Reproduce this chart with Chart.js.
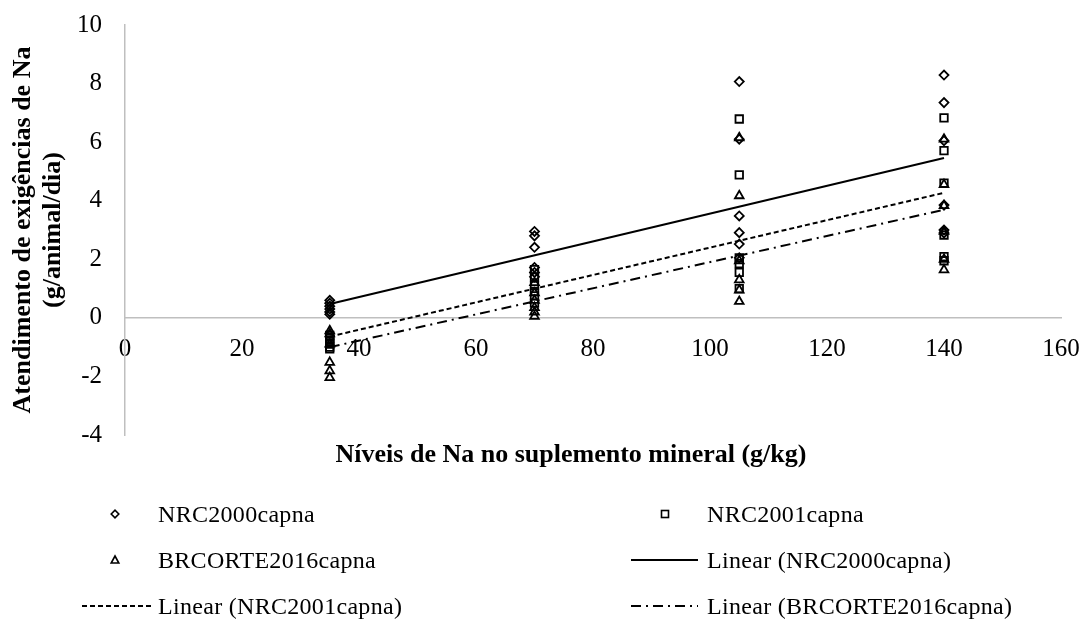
<!DOCTYPE html>
<html lang="pt">
<head>
<meta charset="utf-8">
<script src="https://cdn.jsdelivr.net/npm/chart.js@4.4.1/dist/chart.umd.min.js"></script>
<style>
  html, body { margin: 0; padding: 0; background: #fff; }
  #wrap { position: relative; width: 1085px; height: 619px; overflow: hidden; font-family: 'Liberation Serif', 'Times New Roman', serif; color: #000; }
  #chart { position: absolute; left: 0; top: 0; }
  #legend-marks { position: absolute; left: 0; top: 0; pointer-events: none; }
  .x-title { position: absolute; top: 438px; left: 271px; width: 600px; text-align: center; font-weight: bold; font-size: 26px; line-height: 32px; }
  .legend-text { position: absolute; height: 30px; font-size: 24px; line-height: 30px; white-space: nowrap; letter-spacing: 0.3px; }
</style>
</head>
<body>
<div id="wrap">
  <canvas id="chart" width="1085" height="445"></canvas>
  <div class="x-title">Níveis de Na no suplemento mineral (g/kg)</div>
  <svg id="legend-marks" width="1085" height="619"></svg>
</div>
<script>
// Na levels (g/kg) where the animals were measured
const levels = [35, 70, 105, 140];

// requirement attendance (g/animal/dia), one inner list per level
const nrc2000Values = [
  [0.6, 0.5, 0.4, 0.3, 0.2, 0.12],
  [2.95, 2.8, 2.41, 1.72, 1.55, 1.4],
  [8.07, 6.1, 3.48, 2.91, 2.52, 2.05],
  [8.29, 7.35, 6.05, 3.85, 3.0, 2.9]
];
const nrc2001Values = [
  [-0.6, -0.7, -0.8, -0.9, -1.0, -1.06],
  [1.65, 1.4, 1.1, 0.9, 0.75, 0.5],
  [6.79, 4.88, 2.05, 1.85, 1.55, 1.0],
  [6.83, 5.71, 4.6, 2.83, 2.09, 1.95]
];
const brcorteValues = [
  [-0.44, -0.55, -0.9, -1.52, -1.81, -2.04],
  [1.2, 0.85, 0.6, 0.35, 0.2, 0.05],
  [6.15, 4.17, 1.95, 1.3, 0.95, 0.56],
  [6.1, 4.55, 3.83, 2.95, 2.0, 1.64]
];

// trend lines, at the first and last level
const trendX = [35, 140];
const nrc2000Trend = [0.47, 5.46];
const nrc2001Trend = [-0.64, 4.27];
const brcorteTrend = [-1.0, 3.69];

const seriesNames = ['NRC2000capna', 'NRC2001capna', 'BRCORTE2016capna'];
const xRange = [0, 160, 20];
const yRange = [-4, 10, 2];

const FONT = "'Liberation Serif', 'Times New Roman', serif";

function toPoints(groups) {
  return groups.flatMap((values, i) => values.map((y) => ({ x: levels[i], y })));
}

function toLine(values) {
  return trendX.map((x, i) => ({ x, y: values[i] }));
}

function markerDataset(label, values, pointStyle, radius) {
  return {
    label,
    data: toPoints(values),
    pointStyle,
    pointRadius: radius,
    pointHoverRadius: radius,
    borderColor: '#000',
    backgroundColor: 'rgba(255,255,255,0)',
    borderWidth: 1.8,
    showLine: false
  };
}

function trendDataset(label, values, dash) {
  return {
    type: 'line',
    label: `Linear (${label})`,
    data: toLine(values),
    borderColor: '#000',
    backgroundColor: '#000',
    borderWidth: 2,
    borderDash: dash,
    pointRadius: 0,
    showLine: true,
    fill: false
  };
}

const datasets = [
  markerDataset(seriesNames[0], nrc2000Values, 'rectRot', 4.5),
  markerDataset(seriesNames[1], nrc2001Values, 'rect', 5.3),
  markerDataset(seriesNames[2], brcorteValues, 'triangle', 5),
  trendDataset(seriesNames[0], nrc2000Trend, []),
  trendDataset(seriesNames[1], nrc2001Trend, [5, 3]),
  trendDataset(seriesNames[2], brcorteTrend, [10, 5, 2, 5])
];

const chart = new Chart(document.getElementById('chart'), {
  type: 'scatter',
  data: { datasets },
  options: {
    responsive: false,
    animation: false,
    devicePixelRatio: 1,
    layout: { padding: { top: 25, right: 24, bottom: 10, left: 0 } },
    plugins: {
      legend: { display: false },
      tooltip: { enabled: false }
    },
    scales: {
      x: {
        type: 'linear',
        position: { y: 0 },
        min: xRange[0],
        max: xRange[1],
        afterFit: (scale) => {
          scale.height = 0;
          scale.paddingLeft = 0;
          scale.paddingRight = 0;
        },
        ticks: {
          stepSize: xRange[2],
          color: '#000',
          padding: 17,
          maxRotation: 0,
          autoSkip: false,
          font: { family: FONT, size: 25 }
        },
        grid: { display: false, drawTicks: false },
        border: { display: true, color: '#bfbfbf', width: 1.5 }
      },
      y: {
        type: 'linear',
        min: yRange[0],
        max: yRange[1],
        afterFit: (scale) => {
          scale.width = 125;
          scale.paddingTop = 0;
          scale.paddingBottom = 0;
        },
        ticks: {
          stepSize: yRange[2],
          color: '#000',
          padding: 23,
          font: { family: FONT, size: 25 }
        },
        grid: { display: false, drawTicks: false },
        border: { display: true, color: '#bfbfbf', width: 1.5 },
        title: {
          display: true,
          text: ['Atendimento de exigências de Na', '(g/animal/dia)'],
          color: '#000',
          padding: { top: 8, bottom: 0 },
          font: { family: FONT, size: 26, weight: 'bold', lineHeight: 1.15 }
        }
      }
    }
  }
});

// legend: two columns, filled row by row like the original
const LEGEND_ROWS = [514, 560, 606];
const LEGEND_COLS = [
  { mark: 115, lineFrom: 82, lineTo: 152, text: 158 },
  { mark: 665, lineFrom: 631, lineTo: 698, text: 707 }
];
const svgNS = 'http://www.w3.org/2000/svg';
const marks = document.getElementById('legend-marks');
const wrap = document.getElementById('wrap');

function svgEl(tag, attrs) {
  const el = document.createElementNS(svgNS, tag);
  Object.entries(attrs).forEach(([k, v]) => el.setAttribute(k, v));
  marks.appendChild(el);
  return el;
}

chart.data.datasets.forEach((ds, i) => {
  const col = LEGEND_COLS[i % 2];
  const cy = LEGEND_ROWS[Math.floor(i / 2)];
  const stroke = { fill: 'none', stroke: '#000', 'stroke-width': 1.6 };

  if (ds.type === 'line') {
    svgEl('line', {
      x1: col.lineFrom, x2: col.lineTo, y1: cy, y2: cy,
      stroke: '#000', 'stroke-width': 2,
      'stroke-dasharray': ds.borderDash.length ? ds.borderDash.join(' ') : 'none'
    });
  } else if (ds.pointStyle === 'rectRot') {
    const r = 3.8;
    const x = col.mark;
    svgEl('polygon', { points: `${x - r},${cy} ${x},${cy - r} ${x + r},${cy} ${x},${cy + r}`, ...stroke });
  } else if (ds.pointStyle === 'rect') {
    svgEl('rect', { x: col.mark - 3.5, y: cy - 3.5, width: 7, height: 7, ...stroke });
  } else {
    const x = col.mark;
    svgEl('polygon', { points: `${x},${cy - 4} ${x + 3.8},${cy + 3} ${x - 3.8},${cy + 3}`, ...stroke });
  }

  const label = document.createElement('div');
  label.className = 'legend-text';
  label.textContent = ds.label;
  label.style.left = `${col.text}px`;
  label.style.top = `${cy - 15}px`;
  wrap.appendChild(label);
});
</script>
</body>
</html>
